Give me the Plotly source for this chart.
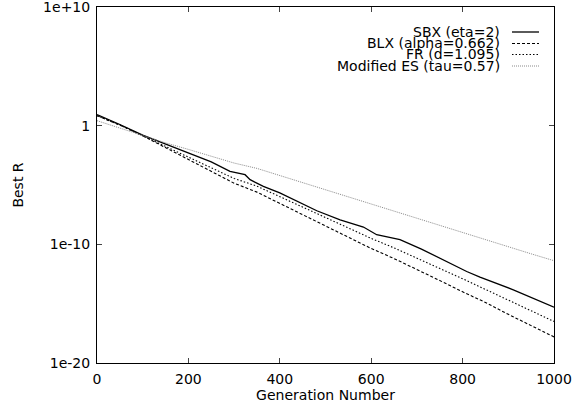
import numpy as np
import plotly.graph_objects as go

sbx_gens = [0, 50, 100, 150, 200, 250, 291, 324, 335, 364, 400, 437, 481, 532, 583, 612,
            663, 710, 765, 809, 838, 911, 1000]
# log10(best R)
sbx_log10 = [0.93, 0.1, -0.8, -1.55, -2.3, -3.05, -3.85, -4.13, -4.55, -5.12, -5.67, -6.38,
             -7.17, -7.93, -8.54, -9.19, -9.61, -10.4, -11.44, -12.29, -12.76, -13.83, -15.3]

gens_50 = [0, 50, 100, 150, 200, 250, 300, 350, 400, 450, 500, 550, 600, 650, 700, 750, 800,
           850, 900, 950, 1000]
blx_log10 = [0.84, 0.05, -0.85, -1.85, -2.85, -3.85, -4.85, -5.6, -6.55, -7.5, -8.45, -9.4,
             -10.35, -11.2, -12.1, -13.05, -14.0, -14.9, -15.9, -16.85, -17.8]
fr_log10 = [0.84, 0.05, -0.85, -1.75, -2.65, -3.55, -4.45, -5.1, -5.98, -6.86, -7.74, -8.62,
            -9.5, -10.3, -11.15, -12.0, -12.9, -13.8, -14.7, -15.6, -16.5]
es_log10 = [0.42, -0.2, -0.88, -1.45, -2.0, -2.6, -3.15, -3.6, -4.2, -4.8, -5.4, -6.0, -6.6,
            -7.25, -7.85, -8.45, -9.05, -9.6, -10.2, -10.8, -11.38]

names = ["SBX (eta=2)", "BLX (alpha=0.662)", "FR (d=1.095)", "Modified ES (tau=0.57)"]
colors = ["black", "black", "black", "#8a8a8a"]
dashes = ["solid", "3px,2px", "1.5px,2px", "1px,1px"]
widths = [1.3, 1.1, 1.1, 1.0]

ytick_vals = [1e10, 1, 1e-10, 1e-20]
ytick_text = ["1e+10", "1", "1e-10", "1e-20"]
xtick_vals = [0, 200, 400, 600, 800, 1000]

series = [(sbx_gens, sbx_log10), (gens_50, blx_log10), (gens_50, fr_log10), (gens_50, es_log10)]

FONT = "DejaVu Sans"
FS = 14

# plot area in pixels
L, R, T, B = 97, 554, 7, 363
W, H = 573, 408

fig = go.Figure()
for (xs, ls), n, c, d, w in zip(series, names, colors, dashes, widths):
    fig.add_trace(go.Scatter(x=xs, y=np.power(10.0, ls), mode="lines", name=n,
                             line=dict(color=c, dash=d, width=w), showlegend=False))

# gnuplot-style legend: text right-aligned, sample to the right
row_y = [32, 43.5, 54.5, 66]
for i, n in enumerate(names):
    yp = (B - row_y[i]) / (B - T)
    fig.add_annotation(x=(502 - L) / (R - L), y=yp, xref="paper", yref="paper", text=n,
                       showarrow=False, xanchor="right", yanchor="middle",
                       font=dict(family=FONT, size=FS, color="black"))
    fig.add_shape(type="line", xref="paper", yref="paper",
                  x0=(512 - L) / (R - L), x1=(539 - L) / (R - L), y0=yp, y1=yp,
                  line=dict(color=colors[i], dash=dashes[i], width=widths[i]))

fig.update_layout(
    width=W, height=H,
    margin=dict(l=L, r=W - R, t=T, b=H - B, autoexpand=False),
    plot_bgcolor="white", paper_bgcolor="white",
    font=dict(family=FONT, size=FS, color="black"),
)
fig.update_xaxes(range=[0, 1000], tickvals=xtick_vals, ticks="inside", ticklen=5,
                 showline=True, linecolor="black", linewidth=1, mirror="allticks",
                 showgrid=False, zeroline=False, automargin=False,
                 ticklabeloverflow="allow", ticklabelstandoff=3,
                 title=dict(text="Generation Number", standoff=0, font=dict(size=FS)))
fig.update_yaxes(type="log", range=[-20, 10], tickvals=ytick_vals, ticktext=ytick_text,
                 ticks="inside", ticklen=5, showline=True, linecolor="black", linewidth=1,
                 mirror="allticks", showgrid=False, zeroline=False, automargin=False,
                 ticklabeloverflow="allow", ticklabelstandoff=3,
                 title=dict(text="Best R", standoff=16, font=dict(size=FS)))

fig.write_html("out.html", config={"displayModeBar": False},
               post_script="document.body.style.margin='0';document.body.style.overflow='hidden';")
